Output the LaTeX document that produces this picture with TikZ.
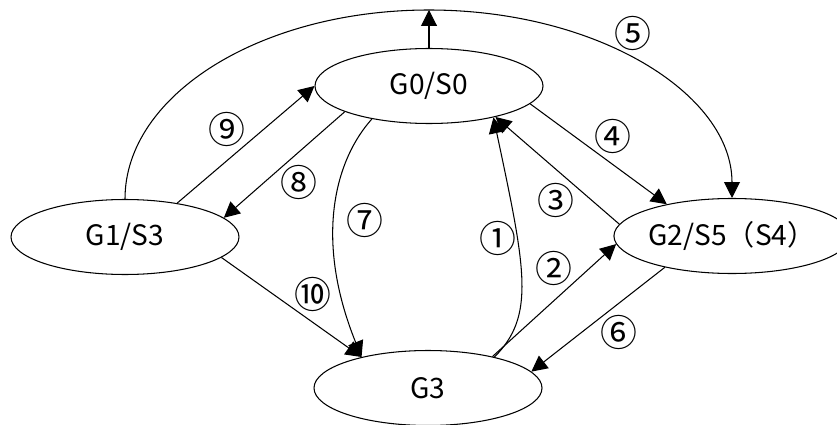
\documentclass[tikz,border=0pt]{standalone}
\usepackage{fontspec}
\setmainfont{Noto Sans CJK JP}
\usetikzlibrary{arrows.meta,shapes}

\begin{document}
\begin{tikzpicture}[->,>={Triangle[length=9pt,width=9pt]},auto,semithick,
            font=\fontsize{21}{23}\selectfont,inner sep=-1pt,
            state/.style={shape=ellipse,draw=black,minimum width=4.56cm,minimum height=1.5cm,inner sep=0pt,font=\fontsize{16}{18}\selectfont}]
            \useasboundingbox (0,0) rectangle (16.74,8.48);
            \node[state](g0)at(8.58, 6.76){G0/S0};
            \node[state](g1)at(2.5, 3.74){G1/S3};
            \node[state](g2)at(14.64, 3.76){G2/S5（S4）};
            \node[state](g3)at(8.56, 0.72){G3};
            \coordinate(top)at(8.58, 8.28);
            \draw(g1.north) .. controls +(0,2.09) and +(-3.35,0) .. (top)
                .. controls +(3.35,0) and +(0,2.09) .. (g2.north) node[pos=0.42]{⑤};
            \path[](g0.north) edge (top)
            (g3.25) edge[out=45,in=-78,out looseness=0.62,in looseness=1.66] node[pos=0.72]{①} (g0.-26)
            (g3.26) edge node[pos=0.64]{②} (g2.184)
            (g2.174) edge node[pos=0.37]{③} (g0.-25)
            (g0.-10) edge node[pos=0.48]{④} (g2.154)
            (g2.-155) edge node[pos=0.47]{⑥} (g3.9)
            (g0.-150) edge[out=228,in=112,out looseness=0.59,in looseness=1.37] node[pos=0.48,xshift=7pt]{⑦} (g3.155)
            (g0.-163) edge node[pos=0.52]{⑧} (g1.11)
            (g1.33) edge node[pos=0.49]{⑨} (g0.180)
            (g1.-12) edge node[pos=0.53]{⑩} (g3.155);
        \end{tikzpicture}
\end{document}
